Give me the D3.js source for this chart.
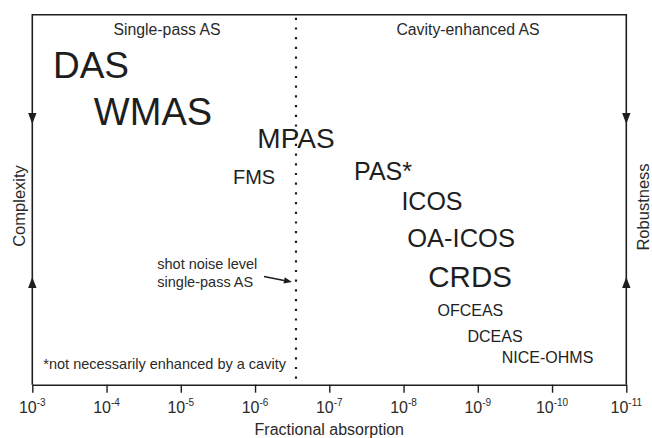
<!DOCTYPE html>
<html>
<head>
<meta charset="utf-8">
<script src="https://cdn.jsdelivr.net/npm/d3@7"></script>
<style>
  html, body { margin: 0; padding: 0; background: #fff; }
  svg { display: block; font-family: "Liberation Sans", Arial, Helvetica, sans-serif; }
</style>
</head>
<body>
<svg id="chart" width="652" height="438"></svg>
<script>
// Techniques, their attainable fractional absorption and their place on the complexity/robustness axis
const techniques = ["DAS", "WMAS", "MPAS", "FMS", "PAS*", "ICOS", "OA-ICOS", "CRDS", "OFCEAS", "DCEAS", "NICE-OHMS"];
const absorption = [1.62e-4, 2.37e-5, 2.81e-7, 1.03e-6, 1.89e-8, 4.14e-9, 1.68e-9, 1.27e-9, 1.26e-9, 5.86e-10, 1.15e-10];
const complexityLevel = [82.9, 70.2, 64.0, 54.2, 55.3, 47.2, 37.2, 26.4, 18.6, 11.5, 5.9];

// Decade ticks of the absorption axis (exponents)
const tickExponents = [-3, -4, -5, -6, -7, -8, -9, -10, -11];

// Shot-noise limit of single-pass absorption spectroscopy
const shotNoiseLevel = 2.81e-7;

// Text styling per technique (font size in px)
const labelSize = {
  "DAS": 37, "WMAS": 38, "MPAS": 28, "FMS": 20, "PAS*": 25,
  "ICOS": 25, "OA-ICOS": 25.5, "CRDS": 29.5, "OFCEAS": 16, "DCEAS": 16, "NICE-OHMS": 16
};

const ink = "#1e1e1e";
const svg = d3.select("#chart");
const plotLeft = 32.3, plotRight = 626.3, plotTop = 14.7, plotBottom = 384.7;

const x = d3.scaleLog().domain([1e-3, 1e-11]).range([plotLeft, plotRight]);
const y = d3.scaleLinear().domain([0, 100]).range([plotBottom, plotTop]);

// Frame: top, left and right edges
svg.append("path")
  .attr("d", `M${plotLeft},${plotBottom}V${plotTop}H${plotRight}V${plotBottom}`)
  .attr("fill", "none").attr("stroke", ink).attr("stroke-width", 1.6);

// Bottom axis with decade ticks
const axis = d3.axisBottom(x)
  .tickValues(tickExponents.map(e => Math.pow(10, e)))
  .tickSize(8).tickSizeOuter(0).tickFormat(() => "");
const gAxis = svg.append("g").attr("transform", `translate(0,${plotBottom})`).call(axis);
gAxis.select(".domain").attr("stroke", ink).attr("stroke-width", 1.6);
gAxis.selectAll(".tick line").attr("stroke", ink).attr("stroke-width", 1.4);
gAxis.selectAll(".tick text").remove();

const tickLabels = svg.append("g");
tickExponents.forEach(e => {
  const t = tickLabels.append("text")
    .attr("x", x(Math.pow(10, e)))
    .attr("y", 413.3)
    .attr("text-anchor", "middle")
    .attr("fill", "#2a2a2a")
    .attr("font-size", 16);
  t.append("tspan").text("10");
  t.append("tspan").attr("font-size", 10).attr("dy", -7).text(String(e));
});

svg.append("text")
  .attr("x", (plotLeft + plotRight) / 2).attr("y", 435)
  .attr("text-anchor", "middle").attr("font-size", 16).attr("fill", "#2a2a2a")
  .text("Fractional absorption");

// Dotted boundary at the shot-noise level
svg.append("line")
  .attr("x1", x(shotNoiseLevel)).attr("x2", x(shotNoiseLevel))
  .attr("y1", plotTop + 3).attr("y2", plotBottom)
  .attr("stroke", ink).attr("stroke-width", 2.2)
  .attr("stroke-dasharray", "2.2,7.5");

// Region headings
svg.append("text").attr("x", 167).attr("y", 35).attr("text-anchor", "middle")
  .attr("font-size", 15.8).attr("fill", "#2a2a2a").text("Single-pass AS");
svg.append("text").attr("x", 468).attr("y", 35).attr("text-anchor", "middle")
  .attr("font-size", 15.8).attr("fill", "#2a2a2a").text("Cavity-enhanced AS");

// Technique labels
svg.append("g").selectAll("text")
  .data(techniques)
  .join("text")
  .attr("x", (d, i) => x(absorption[i]))
  .attr("y", (d, i) => y(complexityLevel[i]))
  .attr("text-anchor", "middle")
  .attr("font-size", d => labelSize[d])
  .attr("fill", ink)
  .text(d => d);

// Annotation for the shot-noise line
const note = svg.append("text").attr("font-size", 14.5).attr("fill", "#2a2a2a");
note.append("tspan").attr("x", 157.3).attr("y", 269.3).text("shot noise level");
note.append("tspan").attr("x", 157.3).attr("y", 286.7).text("single-pass AS");

const ax0 = 264, ay0 = 276.5, ax1 = x(shotNoiseLevel) - 4, ay1 = 282;
const ang = Math.atan2(ay1 - ay0, ax1 - ax0);
const headLen = 8, headHalf = 3.2;
const bx = ax1 - headLen * Math.cos(ang), by = ay1 - headLen * Math.sin(ang);
svg.append("line").attr("x1", ax0).attr("y1", ay0).attr("x2", bx).attr("y2", by)
  .attr("stroke", ink).attr("stroke-width", 1.6);
svg.append("path")
  .attr("d", `M${ax1},${ay1}L${bx + headHalf * Math.sin(ang)},${by - headHalf * Math.cos(ang)}L${bx - headHalf * Math.sin(ang)},${by + headHalf * Math.cos(ang)}Z`)
  .attr("fill", ink);

// Footnote
svg.append("text").attr("x", 43.3).attr("y", 369.3)
  .attr("font-size", 14.5).attr("fill", "#2a2a2a")
  .text("*not necessarily enhanced by a cavity");

// Arrowheads on the side edges (down near the top, up near the bottom)
function arrowHead(cx, tipY, dir) {
  const h = 11, w = 4.2;
  svg.append("path")
    .attr("d", `M${cx},${tipY}L${cx - w},${tipY - dir * h}L${cx + w},${tipY - dir * h}Z`)
    .attr("fill", ink);
}
[plotLeft, plotRight].forEach(cx => {
  arrowHead(cx, 124, 1);
  arrowHead(cx, 277, -1);
});

// Side axis titles
svg.append("text")
  .attr("transform", "translate(25,206) rotate(-90)")
  .attr("text-anchor", "middle").attr("font-size", 16.5).attr("fill", "#2a2a2a")
  .text("Complexity");
svg.append("text")
  .attr("transform", "translate(649,207) rotate(-90)")
  .attr("text-anchor", "middle").attr("font-size", 16.5).attr("fill", "#2a2a2a")
  .text("Robustness");
</script>
</body>
</html>
